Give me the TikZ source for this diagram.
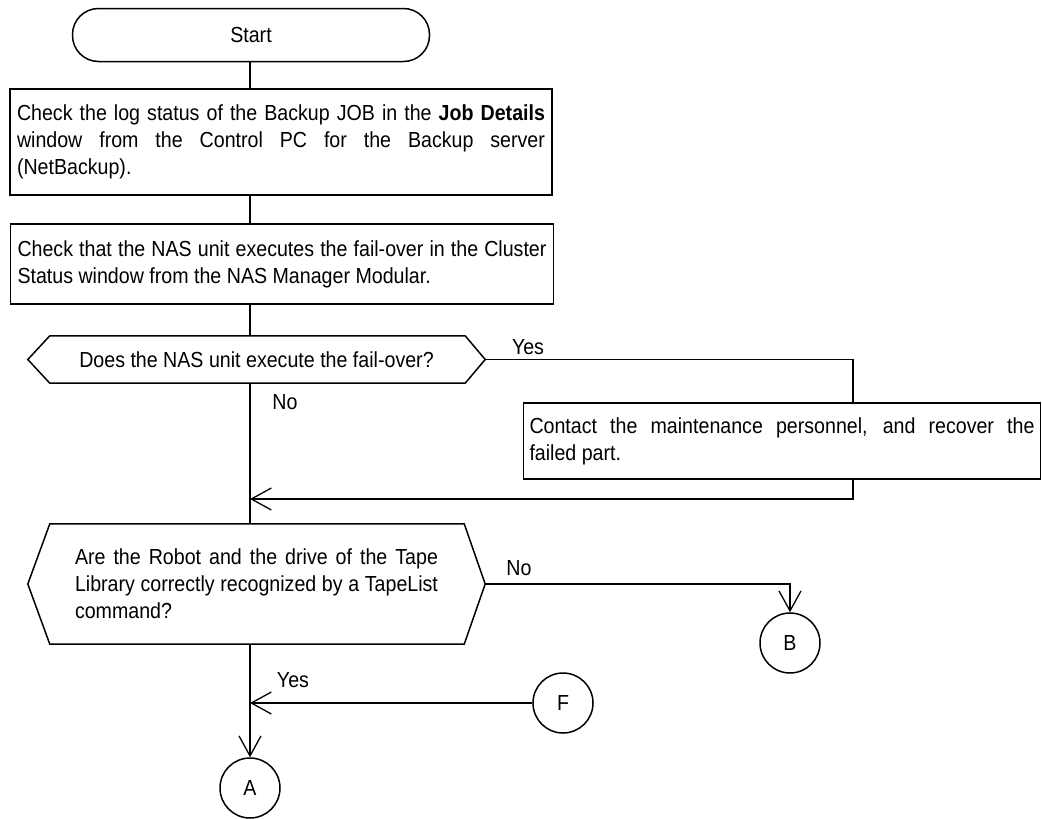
\documentclass[tikz,border=0pt]{standalone}
\usepackage{fontspec}
\setmainfont{Liberation Sans}[FakeStretch=0.9]
\usetikzlibrary{arrows.meta,calc}
\newcommand\jline[2]{\makebox[#1][s]{#2}}
\tikzset{
  lw/.style={line width=1.5pt},
  arr/.style={lw,-{Straight Barb[length=20pt,width=22pt,line width=1.3pt]}},
  box/.style={draw,lw,rectangle,align=left,inner xsep=7pt,inner ysep=0pt,anchor=center},
  term/.style={draw,lw,rectangle,rounded corners=26pt,minimum width=357pt,minimum height=53pt},
  hexnode/.style={rectangle,align=left,inner sep=0pt},
  conn/.style={draw,lw,circle,minimum size=60pt,inner sep=0pt},
  lab/.style={inner sep=0pt}
}
\begin{document}
\begin{tikzpicture}[x=1pt,y=-1pt,font=\fontsize{21.8pt}{27pt}\selectfont]
\useasboundingbox (0,0) rectangle (1042,819);
\fill[white] (0,0) rectangle (1042,819);
\coordinate (main) at (250,0);
\coordinate (yx) at (853,0);
\coordinate (j1) at (250,499);

\node[term] (start) at (251,35) {Start};
\node[box,minimum height=106pt] (box1) at (281,142) {\jline{528pt}{Check the log status of the Backup JOB in the \textbf{Job Details}}\\\jline{528pt}{window from the Control PC for the Backup server}\\(NetBackup).};
\node[box,minimum height=80pt] (box2) at (282,264) {\jline{529pt}{Check that the NAS unit executes the fail-over in the Cluster}\\Status window from the NAS Manager Modular.};

\node[hexnode,minimum width=457pt,minimum height=47pt] (hex1) at (256.5,359.5) {Does the NAS unit execute the fail-over?};
\draw[lw] (hex1.west) -- ([xshift=22pt]hex1.north west) -- ([xshift=-20pt]hex1.north east) -- (hex1.east) -- ([xshift=-20pt]hex1.south east) -- ([xshift=22pt]hex1.south west) -- cycle;

\node[box,minimum height=76pt,inner xsep=6pt] (box3) at (782,441) {\jline{505pt}{Contact the maintenance personnel, and recover the}\\failed part.};

\node[hexnode,minimum width=457pt,minimum height=120pt] (hex2) at (256.5,584) {\jline{363pt}{Are the Robot and the drive of the Tape}\\\jline{363pt}{Library correctly recognized by a TapeList}\\command?};
\draw[lw] (hex2.west) -- ([xshift=22pt]hex2.north west) -- ([xshift=-21pt]hex2.north east) -- (hex2.east) -- ([xshift=-21pt]hex2.south east) -- ([xshift=22pt]hex2.south west) -- cycle;

\node[conn] (B) at (790,643) {B};
\node[conn] (F) at (563,703) {F};
\node[conn] (A) at (250,788) {A};

\node[lab] (yes1) at (528,347) {Yes};
\node[lab] (no1) at (285,402) {No};
\node[lab] (no2) at (519,568) {No};
\node[lab] (yes2) at (293,680) {Yes};

% connectors
\draw[lw] (start.south -| main) -- (box1.north -| main);
\draw[lw] (box1.south -| main) -- (box2.north -| main);
\draw[lw] (box2.south -| main) -- (hex1.north -| main);
\draw[lw] (hex1.south -| main) -- (hex2.north -| main);
\draw[lw] (hex1.east) -| (box3.north -| yx);
\draw[arr] (box3.south -| yx) |- (j1);
\draw[arr] (hex2.east) -| (B.north);
\draw[arr] (hex2.south -| main) -- (A.north);
\draw[arr] (F.west) -- (F.west -| main);
\end{tikzpicture}
\end{document}
